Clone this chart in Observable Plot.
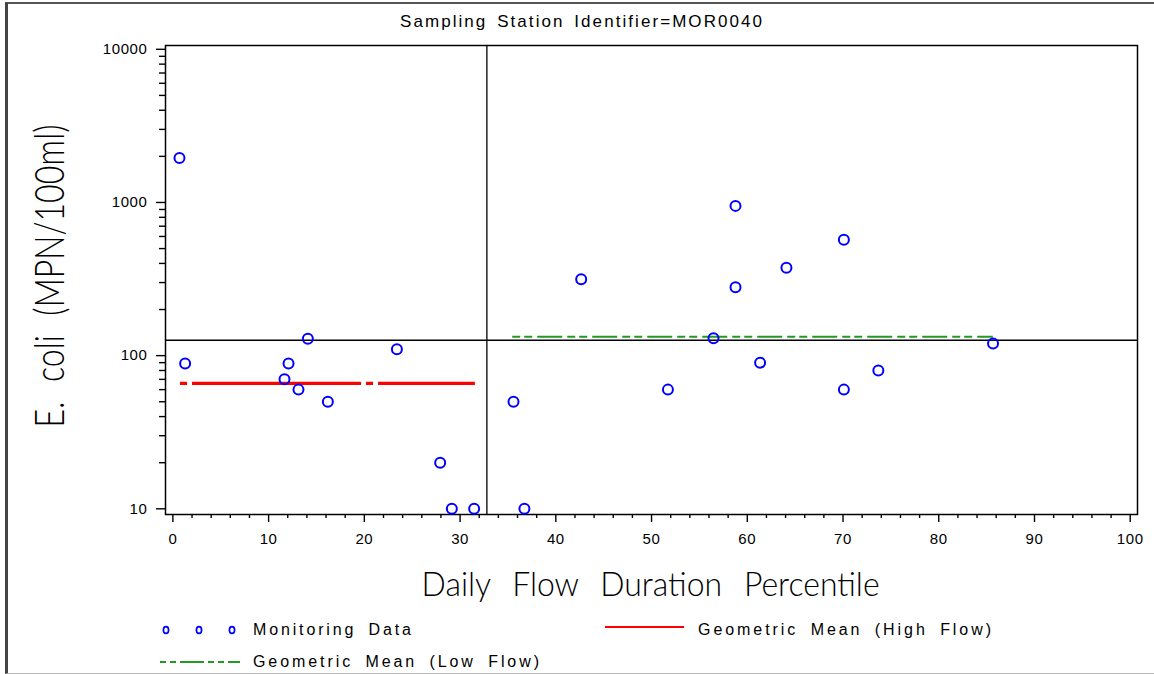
<!DOCTYPE html>
<html>
<head>
<meta charset="utf-8">
<script src="https://cdn.jsdelivr.net/npm/d3@7"></script>
<script src="https://cdn.jsdelivr.net/npm/@observablehq/plot@0.6"></script>
<style>
  body { margin: 0; background: #fff; }
  #wrap { position: relative; width: 1154px; height: 674px; overflow: hidden; background: #fff;
          font-family: 'Liberation Sans', Arial, sans-serif; color: #000; }
  #chart { position: absolute; left: 0; top: 0; }
  #chart svg text { letter-spacing: 0.6px; }
  #border { position: absolute; left: 5px; top: 2px; width: 1170px; height: 672px; box-sizing: border-box;
            border-left: 3px solid #444; border-top: 2.5px solid #555; border-bottom: 1px solid #bbb; pointer-events: none; }
  .axtitle { font-family: Lato, 'Liberation Sans', Arial, sans-serif; font-weight: 300; }
</style>
</head>
<body>
<div id="wrap">
  <div id="chart"></div>
  <div id="border"></div>
</div>
<script>
// ---------------- data ----------------
const titleText = "Sampling Station Identifier=MOR0040";
const xTitle = "Daily Flow Duration Percentile";
const yTitle = "E. coli (MPN/100ml)";

// Monitoring data (flow duration percentile, E. coli MPN/100ml)
const flowPct = [0.69, 1.28, 12.08, 11.66, 13.12, 14.10, 16.19, 23.40, 27.92, 29.14, 31.47,
                 35.58, 36.72, 42.65, 51.71, 56.47, 58.77, 58.77, 61.34, 64.09, 70.09, 70.09, 73.69, 85.67];
const ecoli   = [1950, 89, 89, 70, 60, 129, 50, 110, 20, 10, 10,
                 50, 10, 315, 60, 130, 950, 280, 90, 375, 570, 60, 80, 120];

// Geometric means
const gmNames  = ["Geometric Mean (High Flow)", "Geometric Mean (Low Flow)"];
const gmValues = [66, 133];
const gmStart  = [0.8, 35.5];
const gmEnd    = [31.6, 85.7];

// Reference lines
const standardValue = 126;
const flowSplit = 32.8;

// Ticks
const xTicks = [0, 10, 20, 30, 40, 50, 60, 70, 80, 90, 100];
const xTickLabels = ["0", "10", "20", "30", "40", "50", "60", "70", "80", "90", "100"];
const yTicks = [10, 100, 1000, 10000];
const yTickLabels = ["10", "100", "1000", "10000"];
const xMinor = d3.range(0, 101, 2).filter(d => d % 10 !== 0);
const yMinor = [10, 100, 1000].flatMap(b => [2, 3, 4, 5, 6, 7, 8, 9].map(m => m * b));

const legendLabels = ["Monitoring Data", gmNames[0], gmNames[1]];

// --------------- build ----------------
const points = flowPct.map((x, i) => ({x, y: ecoli[i]}));
const gm = gmNames.map((name, i) => ({name, value: gmValues[i], start: gmStart[i], end: gmEnd[i]}));

const chart = Plot.plot({
  width: 1154,
  height: 560,
  marginLeft: 165,
  marginRight: 17,
  marginTop: 45,
  marginBottom: 46,
  x: {domain: [-0.77, 100.76], label: null},
  y: {type: "log", domain: [9.18, 10588], label: null},
  style: {fontFamily: "'Liberation Sans', Arial, sans-serif", fontSize: "15px", color: "black", background: "transparent"},
  marks: [
    Plot.axisX(xTicks, {tickSize: 8, tickPadding: 11, tickFormat: d => xTickLabels[xTicks.indexOf(d)], label: null, strokeWidth: 1.4}),
    Plot.axisX(xMinor, {tickSize: 4, tickFormat: () => "", label: null, strokeWidth: 1.4}),
    Plot.axisY(yTicks, {tickSize: 9, tickPadding: 9, tickFormat: d => yTickLabels[yTicks.indexOf(d)], label: null, strokeWidth: 1.4}),
    Plot.axisY(yMinor, {tickSize: 6, tickFormat: () => "", label: null, strokeWidth: 1.4}),
    Plot.frame({stroke: "black", strokeWidth: 1.5}),
    Plot.ruleY([standardValue], {stroke: "black", strokeWidth: 1.3}),
    Plot.ruleX([flowSplit], {stroke: "black", strokeWidth: 1.3}),
    Plot.ruleY([gm[0]], {y: "value", x1: "start", x2: "end", stroke: "#ff0000", strokeWidth: 3.2, strokeDasharray: "7,5,169,5"}),
    Plot.ruleY([gm[1]], {y: "value", x1: "start", x2: "end", stroke: "#229922", strokeWidth: 2, strokeDasharray: "8,4,8,5,25,5"}),
    Plot.dot(points, {x: "x", y: "y", r: 5, stroke: "#0000ff", strokeWidth: 2, fill: "none"})
  ]
});
document.getElementById("chart").appendChild(chart);

const wrap = document.getElementById("wrap");

function placeText(str, o) {
  const el = document.createElement("div");
  el.textContent = str;
  if (o.cls) el.className = o.cls;
  el.style.cssText = `position:absolute;left:0;top:0;white-space:pre;line-height:1;font-size:${o.size}px;word-spacing:${o.ws || 0}px;transform-origin:50% 50%;`;
  wrap.appendChild(el);
  let r = el.getBoundingClientRect();
  let w = r.width, h = r.height;
  const cx = o.anchor === "start" ? o.x + o.width / 2 : o.x;
  if (o.mode === "spacing") {
    const ls = (o.width - w) / (str.length - 1);
    el.style.letterSpacing = ls + "px";
    el.style.left = (cx - o.width / 2) + "px";
    el.style.top = (o.y - h / 2) + "px";
  } else {
    const s = o.width / w;
    el.style.left = (cx - w / 2) + "px";
    el.style.top = (o.y - h / 2) + "px";
    el.style.transform = `${o.rotate ? `rotate(${o.rotate}deg) ` : ""}scaleX(${s})`;
  }
  return el;
}

// Title and axis titles
placeText(titleText, {size: 17, x: 400, width: 362, anchor: "start", y: 21, mode: "spacing", ws: 3});
placeText(xTitle, {size: 34, x: 651, width: 458, y: 583, mode: "scale", ws: 14, cls: "axtitle"});
placeText(yTitle, {size: 42, x: 48, width: 303, y: 276, mode: "scale", ws: 14, rotate: -90, cls: "axtitle"});

// Legend
const ns = "http://www.w3.org/2000/svg";
const lg = document.createElementNS(ns, "svg");
lg.setAttribute("width", 1154);
lg.setAttribute("height", 64);
lg.style.cssText = "position:absolute;left:0;top:610px;";
[166, 199, 232].forEach(cx => {
  const c = document.createElementNS(ns, "ellipse");
  c.setAttribute("cx", cx); c.setAttribute("cy", 20);
  c.setAttribute("rx", 2.6); c.setAttribute("ry", 3.4);
  c.setAttribute("fill", "none"); c.setAttribute("stroke", "#0000ff"); c.setAttribute("stroke-width", 1.7);
  lg.appendChild(c);
});
function legLine(x1, x2, y, color, w, dash) {
  const l = document.createElementNS(ns, "line");
  l.setAttribute("x1", x1); l.setAttribute("x2", x2);
  l.setAttribute("y1", y); l.setAttribute("y2", y);
  l.setAttribute("stroke", color); l.setAttribute("stroke-width", w);
  if (dash) l.setAttribute("stroke-dasharray", dash);
  lg.appendChild(l);
}
legLine(605, 684, 17, "#ff0000", 2, null);
legLine(160, 240, 52, "#229922", 2, "6,4,6,4,24,4");
wrap.appendChild(lg);

placeText(legendLabels[0], {size: 16, x: 253, width: 158, anchor: "start", y: 630, mode: "spacing", ws: 5});
placeText(legendLabels[1], {size: 16, x: 698, width: 293, anchor: "start", y: 630, mode: "spacing", ws: 5});
placeText(legendLabels[2], {size: 16, x: 253, width: 286, anchor: "start", y: 662, mode: "spacing", ws: 5});
</script>
</body>
</html>
